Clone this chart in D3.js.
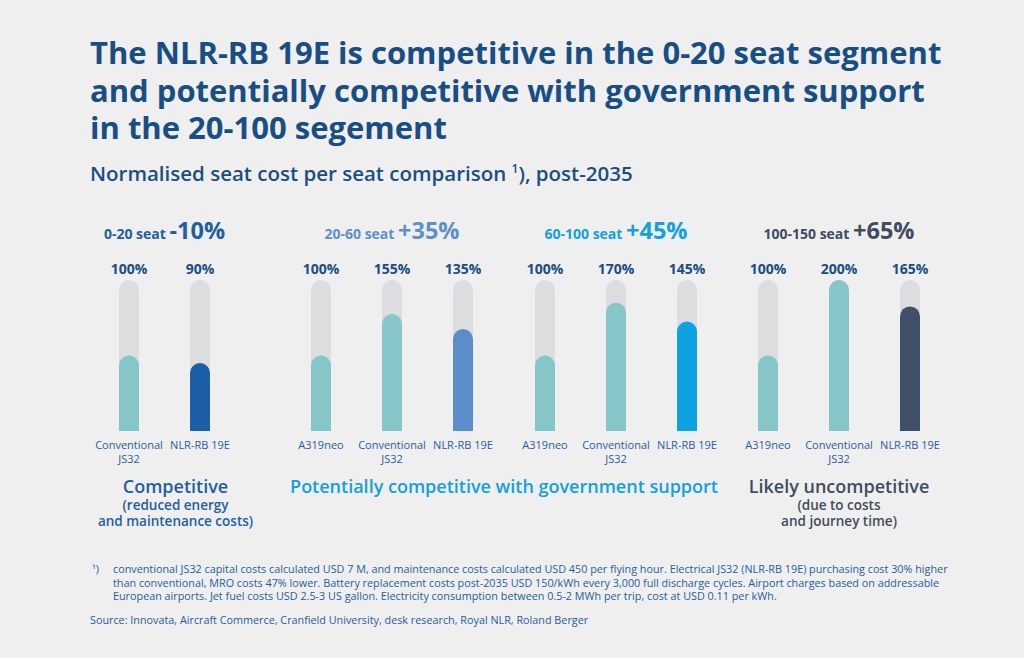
<!DOCTYPE html>
<html>
<head>
<meta charset="utf-8">
<script src="https://cdn.jsdelivr.net/npm/d3@7"></script>
<style>
  html, body { margin: 0; padding: 0; background: #efeff0; }
  svg { display: block; font-family: 'Open Sans', 'Noto Sans', sans-serif; }
</style>
</head>
<body>
<div id="chart"></div>
<script>
// data
const groupNames = ['0-20 seat', '20-60 seat', '60-100 seat', '100-150 seat'];
const groupDeltas = ['-10%', '+35%', '+45%', '+65%'];
const barLabels = [
  [['Conventional', 'JS32'], ['NLR-RB 19E']],
  [['A319neo'], ['Conventional', 'JS32'], ['NLR-RB 19E']],
  [['A319neo'], ['Conventional', 'JS32'], ['NLR-RB 19E']],
  [['A319neo'], ['Conventional', 'JS32'], ['NLR-RB 19E']],
];
const barValues = [
  [100, 90],
  [100, 155, 135],
  [100, 170, 145],
  [100, 200, 165],
];
const verdicts = [
  { main: 'Competitive', sub: ['(reduced energy', 'and maintenance costs)'], groups: [0] },
  { main: 'Potentially competitive with government support', sub: [], groups: [1, 2] },
  { main: 'Likely uncompetitive', sub: ['(due to costs', 'and journey time)'], groups: [3] },
];
const titleLines = [
  'The NLR-RB 19E is competitive in the 0-20 seat segment',
  'and potentially competitive with government support',
  'in the 20-100 segement',
];
const footnoteLines = [
  'conventional JS32 capital costs calculated USD 7 M, and maintenance costs calculated USD 450 per flying hour. Electrical JS32 (NLR-RB 19E) purchasing cost 30% higher',
  'than conventional, MRO costs 47% lower. Battery replacement costs post-2035 USD 150/kWh every 3,000 full discharge cycles. Airport charges based on addressable',
  'European airports. Jet fuel costs USD 2.5-3 US gallon. Electricity consumption between 0.5-2 MWh per trip, cost at USD 0.11 per kWh.',
];
const source = 'Source: Innovata, Aircraft Commerce, Cranfield University, desk research, Royal NLR, Roland Berger';

const groupColors = ['#1d5fa6', '#5b8dcb', '#0ea2e3', '#3f5068'];
const headColors = ['#1f5ea2', '#5f8fca', '#13a0df', '#3f4c5f'];
const verdictColors = ['#1f5ea2', '#13a0df', '#3f4c5f'];
const baseColor = '#86c5c8';
const trackColor = '#dddddf';
const navy = '#194e84';

const size = { width: 1024, height: 658 };
const svg = d3.select('#chart').append('svg')
  .attr('width', size.width).attr('height', size.height);

svg.append('rect').attr('width', size.width).attr('height', size.height).attr('fill', '#efeff0');

// Title (one text block, one tspan per line)
svg.append('text')
  .attr('x', 90).attr('y', 64)
  .attr('fill', navy)
  .attr('font-size', '31px')
  .attr('font-weight', 700)
  .selectAll('tspan').data(titleLines).enter().append('tspan')
  .attr('x', 90)
  .attr('dy', (d, i) => (i === 0 ? 0 : 37.5))
  .text((d) => d);

const sub = svg.append('text')
  .attr('x', 90).attr('y', 181)
  .attr('fill', navy)
  .attr('font-size', '20.5px')
  .attr('font-weight', 600);
sub.append('tspan').text('Normalised seat cost per seat comparison ');
sub.append('tspan').attr('font-size', '12px').attr('dy', -8).text('1');
sub.append('tspan').attr('dy', 8).text('), post-2035');

/*
   Scales
 */
const groupStart = [129, 321, 545, 768]; // first bar centre per group
const step = 71;
const barWidth = 20;
const y = d3.scaleLinear().domain([0, 200]).range([431, 280]);

const barX = (g, i) => groupStart[g] + i * step;
const groupCenter = (g) => groupStart[g] + (barValues[g].length - 1) * step / 2;

const roundTop = (cx, top, bottom, w) => {
  const r = w / 2;
  return `M ${cx - r} ${bottom} L ${cx - r} ${top + r} A ${r} ${r} 0 0 1 ${cx + r} ${top + r} L ${cx + r} ${bottom} Z`;
};

barValues.forEach((vals, g) => {
  const grp = svg.append('g');

  // header
  const head = grp.append('text')
    .attr('x', groupCenter(g)).attr('y', 239)
    .attr('text-anchor', 'middle')
    .attr('fill', headColors[g])
    .attr('font-weight', 700);
  head.append('tspan').attr('font-size', '14px').text(`${groupNames[g]} `);
  head.append('tspan').attr('font-size', '23.5px').text(groupDeltas[g]);

  vals.forEach((v, i) => {
    const cx = barX(g, i);
    grp.append('path')
      .attr('d', roundTop(cx, y(200), y(0), barWidth))
      .attr('fill', trackColor);
    grp.append('path')
      .attr('d', roundTop(cx, y(v), y(0), barWidth))
      .attr('fill', i === vals.length - 1 ? groupColors[g] : baseColor);

    grp.append('text')
      .attr('x', cx).attr('y', 274)
      .attr('text-anchor', 'middle')
      .attr('fill', navy)
      .attr('font-size', '14px')
      .attr('font-weight', 700)
      .text(`${v}%`);

    grp.append('text')
      .attr('x', cx).attr('y', 449)
      .attr('text-anchor', 'middle')
      .attr('fill', '#1f5d9e')
      .attr('font-size', '11px')
      .selectAll('tspan').data(barLabels[g][i]).enter().append('tspan')
      .attr('x', cx)
      .attr('dy', (d, k) => (k === 0 ? 0 : 14))
      .text((d) => d);
  });
});

// verdict labels under the groups
verdicts.forEach((vd, n) => {
  const gs = vd.groups;
  // the first verdict sits a little right of its group in the original
  const cx = (groupCenter(gs[0]) + groupCenter(gs[gs.length - 1])) / 2 + (n === 0 ? 11 : 0);
  svg.append('text')
    .attr('x', cx).attr('y', 493)
    .attr('text-anchor', 'middle')
    .attr('fill', verdictColors[n])
    .attr('font-size', '18px')
    .attr('font-weight', 600)
    .text(vd.main);
  vd.sub.forEach((s, k) => {
    svg.append('text')
      .attr('x', cx).attr('y', 510 + k * 16)
      .attr('text-anchor', 'middle')
      .attr('fill', verdictColors[n])
      .attr('font-size', '13.5px')
      .attr('font-weight', 600)
      .text(s);
  });
});

// footnote
const foot = svg.append('g').attr('fill', '#1f5d9e').attr('font-size', '10.8px');
foot.append('text').attr('x', 92).attr('y', 573).text('¹)');
footnoteLines.forEach((l, i) => {
  foot.append('text').attr('x', 113).attr('y', 573 + i * 13.5).text(l);
});
foot.append('text').attr('x', 90).attr('y', 624).text(source);
</script>
</body>
</html>
